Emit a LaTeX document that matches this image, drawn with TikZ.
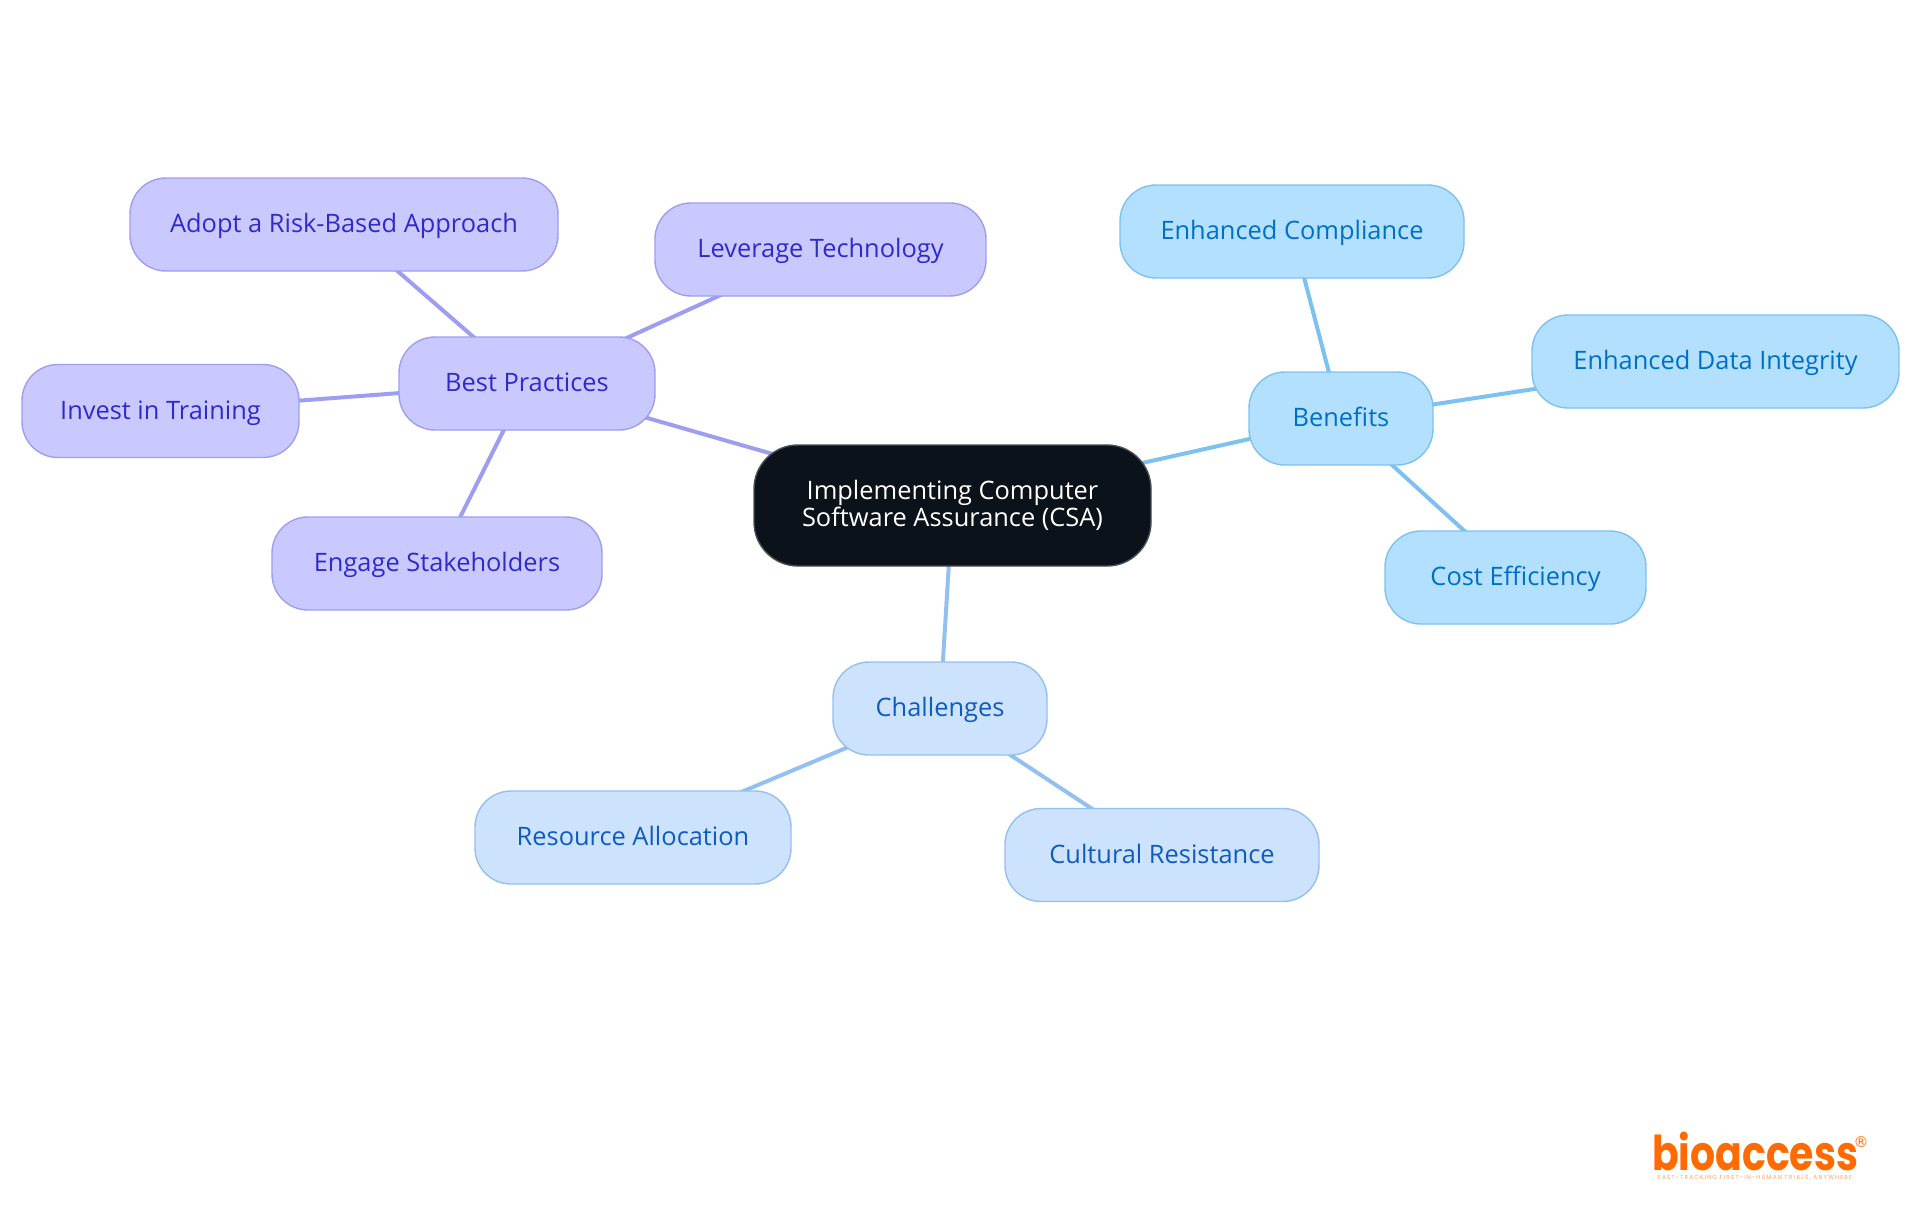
\documentclass[tikz,border=0pt]{standalone}
\usepackage{fontspec}
\setmainfont{Open Sans}
\newfontfamily\logofont[FakeStretch=0.82]{Poppins}
\newfontfamily\tagfont[LetterSpace=20]{Poppins}
\newfontfamily\regfont{DejaVu Sans}
\definecolor{rootfill}{HTML}{0C121A}
\definecolor{rootline}{HTML}{4A4D52}
\definecolor{bestfill}{HTML}{C9C9FF}
\definecolor{bestline}{HTML}{9E9EF0}
\definecolor{besttext}{HTML}{2F2AC8}
\definecolor{benefitfill}{HTML}{B3E0FF}
\definecolor{benefitline}{HTML}{7DC1F0}
\definecolor{benefittext}{HTML}{0070C4}
\definecolor{challengefill}{HTML}{CCE2FD}
\definecolor{challengeline}{HTML}{93C0F0}
\definecolor{challengetext}{HTML}{0F5CC0}
\definecolor{logoorange}{HTML}{FF6B00}
\usetikzlibrary{backgrounds}

\begin{document}
\begin{tikzpicture}[x=0.5pt,y=-0.5pt,font=\fontsize{12.7}{13.5}\selectfont,
    pill/.style={rounded corners=18pt,line width=0.7pt,inner sep=0pt,align=center,minimum height=46.5pt,text height=10.2pt,text depth=2pt},
    rootpill/.style={pill,fill=rootfill,draw=rootline,text=white,rounded corners=22pt,text height=,text depth=},
    bestpill/.style={pill,fill=bestfill,draw=bestline,text=besttext},
    benefitpill/.style={pill,fill=benefitfill,draw=benefitline,text=benefittext},
    challengepill/.style={pill,fill=challengefill,draw=challengeline,text=challengetext},
    link/.style={line width=2pt,shorten <=-20pt,shorten >=-20pt}]

    \path [use as bounding box] (0,0) rectangle (1920,1215);

    % Centre
    \node [rootpill,minimum width=198.5pt,minimum height=60.5pt] (csa) at (952.5,505.5) {Implementing Computer\\Software Assurance (CSA)};

    % Best practices
    \node [bestpill,minimum width=128pt] (best) at (527,383.5) {Best Practices};
    \node [bestpill,minimum width=214pt] (adopt) at (344,224.5) {Adopt a Risk-Based Approach};
    \node [bestpill,minimum width=165.5pt] (leverage) at (820.5,249.5) {Leverage Technology};
    \node [bestpill,minimum width=138.5pt] (training) at (160.5,411) {Invest in Training};
    \node [bestpill,minimum width=165pt] (engage) at (437,563.5) {Engage Stakeholders};

    % Benefits
    \node [benefitpill,minimum width=92pt] (benefits) at (1341,418.5) {Benefits};
    \node [benefitpill,minimum width=172pt] (compliance) at (1292,231.5) {Enhanced Compliance};
    \node [benefitpill,minimum width=183.5pt] (integrity) at (1715.5,361.5) {Enhanced Data Integrity};
    \node [benefitpill,minimum width=130.5pt] (cost) at (1515.5,577.5) {Cost Efficiency};

    % Challenges
    \node [challengepill,minimum width=107pt] (challenges) at (940,708.5) {Challenges};
    \node [challengepill,minimum width=158pt] (resource) at (633,837.5) {Resource Allocation};
    \node [challengepill,minimum width=157pt] (cultural) at (1162,855) {Cultural Resistance};

    % Links, behind the pills so that they reach the round corners
    \begin{scope}[on background layer]
        \draw [link,bestline] (csa) -- (best);
        \draw [link,bestline] (best) -- (leverage);
        \draw [link,bestline] (best) -- (adopt);
        \draw [link,bestline] (best) -- (training);
        \draw [link,bestline] (best) -- (engage);
        \draw [link,benefitline] (csa) -- (benefits);
        \draw [link,benefitline] (benefits) -- (compliance);
        \draw [link,benefitline] (benefits) -- (integrity);
        \draw [link,benefitline] (benefits) -- (cost);
        \draw [link,challengeline] (csa) -- (challenges);
        \draw [link,challengeline] (challenges) -- (resource);
        \draw [link,challengeline] (challenges) -- (cultural);
    \end{scope}

    % Logo
    \node [inner sep=0pt,text=logoorange,font=\logofont\fontsize{24}{24}\selectfont\bfseries] (logo) at (1755,1151) {bioaccess};
    \node [inner sep=0pt,text=logoorange,font=\regfont\fontsize{7.5}{7.5}\selectfont] (regmark) at (1861,1142) {®};
    \node [inner sep=0pt,text=logoorange!65,font=\tagfont\fontsize{2.9}{3}\selectfont] (tagline) at (1755,1178) {FAST-TRACKING FIRST-IN-HUMAN TRIALS, ANYWHERE};

\end{tikzpicture}
\end{document}
